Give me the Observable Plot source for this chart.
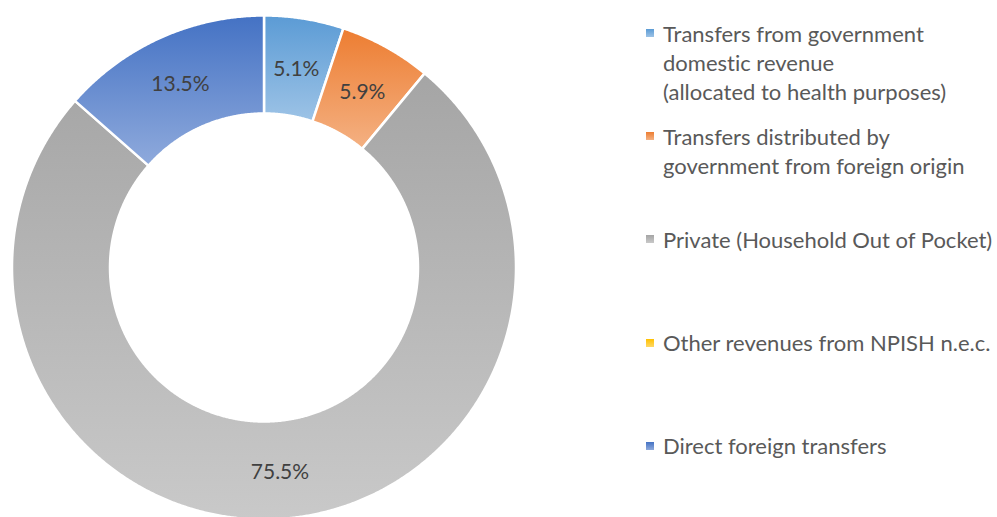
<!DOCTYPE html>
<html><head><meta charset="utf-8">
<script src="https://cdn.jsdelivr.net/npm/d3@7"></script>
<script src="https://cdn.jsdelivr.net/npm/@observablehq/plot@0.6"></script>
<style>
body{margin:0;background:#fff;font-family:Lato,"Open Sans",sans-serif;font-variant-ligatures:none;}
#wrap{position:relative;width:997px;height:517px;overflow:hidden;background:#fff;}
#chart{position:absolute;left:0;top:0;}
#legend{position:absolute;left:646px;top:0;}
.item{position:absolute;left:0;display:flex;align-items:flex-start;color:#595959;font-size:22px;line-height:29px;white-space:nowrap;font-variant-ligatures:none;}
.sw{width:8px;height:8px;margin-top:10.5px;margin-right:9px;flex:none;}
</style></head>
<body>
<div id="wrap"><div id="chart"></div><div id="legend"></div></div>
<script>
const categories = [
  "Transfers from government\ndomestic revenue\n(allocated to health purposes)",
  "Transfers distributed by\ngovernment from foreign origin",
  "Private (Household Out of Pocket)",
  "Other revenues from NPISH n.e.c.",
  "Direct foreign transfers"
];
const values = [5.1, 5.9, 75.5, 0, 13.5];
const colorsTop = ["#5b9bd5", "#ed7d31", "#a5a5a5", "#ffc000", "#4472c4"];
const colorsBottom = ["#9dc3e6", "#f4b183", "#c9c9c9", "#ffd966", "#8faadc"];

const W = 560, H = 517;
const cx = 263.5, cy = 267, R = 252;           // layout
const innerRatio = 154 / 252;

const arcs = d3.pie().sort(null).value(d => d)(values);

const slices = [];
arcs.forEach((a, i) => {
  if (a.endAngle - a.startAngle <= 0) return;
  const pts = [];
  const n = Math.max(2, Math.ceil((a.endAngle - a.startAngle) / 0.005));
  for (let k = 0; k <= n; k++) {
    const t = a.startAngle + (a.endAngle - a.startAngle) * k / n;
    pts.push({x: Math.sin(t), y: Math.cos(t)});
  }
  for (let k = n; k >= 0; k--) {
    const t = a.startAngle + (a.endAngle - a.startAngle) * k / n;
    pts.push({x: innerRatio * Math.sin(t), y: innerRatio * Math.cos(t)});
  }
  pts.push(pts[0]);
  slices.push({i, pts});
});

const labels = arcs.filter(a => a.value > 0).map(a => {
  const m = (a.startAngle + a.endAngle) / 2, r = (1 + innerRatio) / 2;
  return {x: r * Math.sin(m), y: r * Math.cos(m), text: a.value.toFixed(1) + "%"};
});

const xDomain = [-cx / R, (W - cx) / R];
const yDomain = [-(H - cy) / R, cy / R];

const svg = Plot.plot({
  width: W, height: H, margin: 0,
  x: {domain: xDomain, axis: null},
  y: {domain: yDomain, axis: null},
  style: {background: "transparent", overflow: "visible"},
  marks: [
    ...slices.map(s => Plot.line(s.pts, {x: "x", y: "y", fill: `url(#grad${s.i})`, stroke: "white", strokeWidth: 2.5, curve: "linear"})),
    Plot.text(labels, {x: "x", y: "y", text: "text", fontSize: 21, dy: 2, fill: "#404040", fontFamily: "Lato, 'Open Sans', sans-serif"})
  ]
});

const defs = d3.select(svg).insert("defs", ":first-child");
colorsTop.forEach((c, i) => {
  const g = defs.append("linearGradient").attr("id", "grad" + i)
    .attr("x1", 0).attr("y1", 0).attr("x2", 0).attr("y2", 1);
  g.append("stop").attr("offset", "0%").attr("stop-color", c);
  g.append("stop").attr("offset", "100%").attr("stop-color", colorsBottom[i]);
});
document.getElementById("chart").appendChild(svg);

const legend = d3.select("#legend");
categories.forEach((c, i) => {
  const it = legend.append("div").attr("class", "item").style("top", (18.5 + 103.2 * i) + "px");
  it.append("div").attr("class", "sw").style("background", `linear-gradient(${colorsTop[i]}, ${colorsBottom[i]})`);
  it.append("div").html(c.split("\n").join("<br>"));
});
</script>
</body></html>
